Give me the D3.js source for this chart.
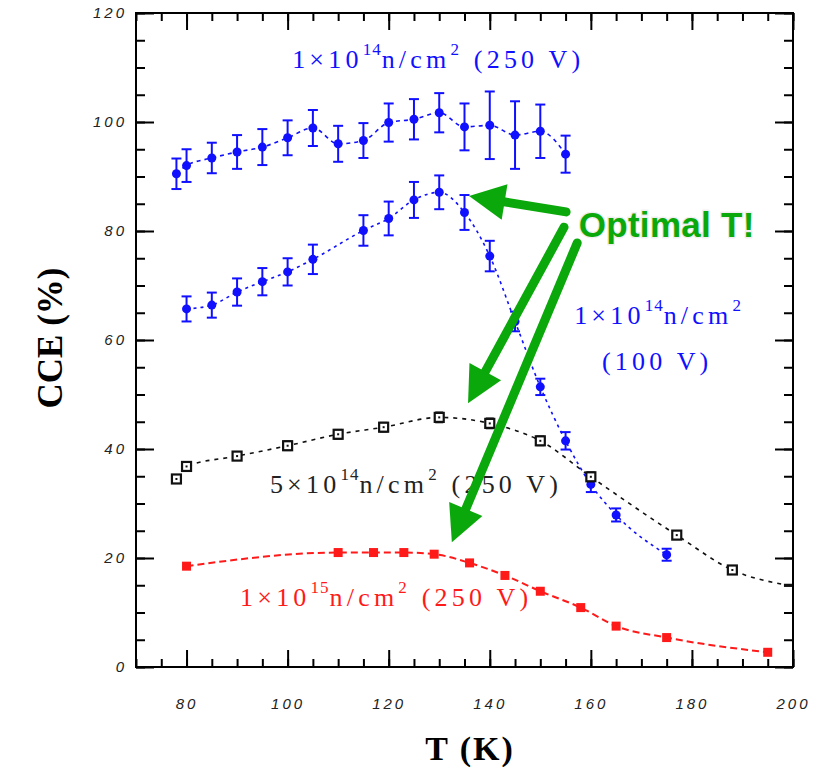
<!DOCTYPE html>
<html>
<head>
<meta charset="utf-8">
<script src="https://cdn.jsdelivr.net/npm/d3@7"></script>
<style>
  body { margin: 0; background: #fff; }
  .tick text { font-family: "Liberation Sans", Arial, sans-serif; font-style: italic; font-size: 15px; letter-spacing: 3px; fill: #222; }
  .lbl { font-family: "Liberation Serif", "Times New Roman", serif; font-size: 26px; letter-spacing: 4.2px; }
</style>
</head>
<body>
<div id="chart"></div>
<script>
// 1e14 n/cm2, 250 V
const tempHigh = [78, 80, 85, 90, 95, 100, 105, 110, 115, 120, 125, 130, 135, 140, 145, 150, 155];
const cceHigh  = [90.5, 92.0, 93.4, 94.5, 95.4, 97.1, 98.9, 96.0, 96.6, 99.9, 100.5, 101.7, 99.1, 99.4, 97.6, 98.3, 94.1];
const errHigh  = [2.8, 3.0, 2.8, 3.1, 3.3, 3.2, 3.3, 3.3, 3.2, 3.5, 3.7, 3.6, 4.3, 6.2, 6.2, 4.9, 3.4];

// 1e14 n/cm2, 100 V
const tempLow = [80, 85, 90, 95, 100, 105, 115, 120, 125, 130, 135, 140, 145, 150, 155, 160, 165, 175];
const cceLow  = [65.7, 66.4, 68.8, 70.7, 72.5, 74.8, 80.1, 82.3, 85.7, 87.1, 83.4, 75.4, 63.4, 51.4, 41.5, 33.5, 27.9, 20.6];
const errLow  = [2.3, 2.3, 2.5, 2.5, 2.5, 2.7, 2.8, 3.1, 3.3, 3.1, 3.2, 2.8, 1.8, 1.5, 1.6, 1.4, 1.2, 1.1];

// 5e14 n/cm2, 250 V
const tempMid = [78, 80, 90, 100, 110, 119, 130, 140, 150, 160, 177, 188];
const cceMid  = [34.5, 36.8, 38.7, 40.6, 42.7, 44.0, 45.8, 44.7, 41.5, 34.9, 24.2, 17.8];
const errMid  = [0, 0, 0.7, 0.8, 0.8, 0.8, 0.9, 0.9, 0.8, 0.8, 0.5, 0.4];
const midTail = [199, 15.0];

// 1e15 n/cm2, 250 V
const tempFlu = [80, 110, 117, 123, 129, 136, 143, 150, 158, 165, 175, 195];
const cceFlu  = [18.5, 21.0, 21.0, 21.0, 20.7, 19.1, 16.8, 13.9, 10.9, 7.5, 5.4, 2.7];

const xTicks = [80, 100, 120, 140, 160, 180, 200];
const yTicks = [0, 20, 40, 60, 80, 100, 120];

// annotation arrows: [tailT, tailCCE, tipT, tipCCE]
const arrows = [
  [155.1, 83.5, 135.9, 86.4],
  [154.7, 80.7, 135.7, 48.4],
  [157.3, 77.8, 132.5, 22.9]
];

const width = 815, height = 771;
const blue = "#1010ff", red = "#ff1a1a", green = "#0aa80a";

const svg = d3.select("#chart").append("svg")
  .attr("width", width).attr("height", height);

const x = d3.scaleLinear().domain([70, 200]).range([136, 793]);
const y = d3.scaleLinear().domain([0, 120]).range([667, 13]);

svg.append("defs").append("clipPath").attr("id", "clip")
  .append("rect").attr("x", 136).attr("y", 13).attr("width", 657).attr("height", 654);

// axes (ticks inward on all four sides)
function axes(axisFn, pos, vals, len, labels, pad) {
  const a = axisFn.tickValues(vals).tickSize(-len).tickPadding(pad || 3);
  if (!labels) a.tickFormat("");
  const g = svg.append("g").attr("transform", pos).call(a);
  g.select(".domain").remove();
  g.selectAll("line").attr("stroke", "#000").attr("stroke-width", 2);
  return g;
}
const xMinor = d3.range(70, 201, 5);
const yMinor = d3.range(0, 121, 5);

axes(d3.axisBottom(x), "translate(0,667)", xMinor, 8, false);
axes(d3.axisBottom(x), "translate(0,667)", xTicks, 17, true, 31);
axes(d3.axisTop(x), "translate(0,13)", xMinor, 8, false);
axes(d3.axisTop(x), "translate(0,13)", xTicks, 17, false);
axes(d3.axisLeft(y), "translate(136,0)", yMinor, 9, false);
axes(d3.axisLeft(y), "translate(136,0)", yTicks, 18, true, 9);
axes(d3.axisRight(y), "translate(793,0)", yMinor, 9, false);
axes(d3.axisRight(y), "translate(793,0)", yTicks, 18, false);

svg.append("rect").attr("x", 136).attr("y", 13).attr("width", 657).attr("height", 654)
  .attr("fill", "none").attr("stroke", "#000").attr("stroke-width", 2);

// axis titles
svg.append("text").attr("x", 470).attr("y", 760).attr("text-anchor", "middle")
  .style("font-family", "Liberation Serif, serif").style("font-weight", "bold")
  .style("font-size", "34px").style("letter-spacing", "2px").text("T (K)");
svg.append("text").attr("transform", "translate(62,338) rotate(-90)").attr("text-anchor", "middle")
  .style("font-family", "Liberation Serif, serif").style("font-weight", "bold")
  .style("font-size", "35px").text("CCE (%)");

const plot = svg.append("g").attr("clip-path", "url(#clip)");

const line = d3.line().x(d => x(d[0])).y(d => y(d[1])).curve(d3.curveMonotoneX);

function series(ts, vs, color, dash, sw) {
  const pts = ts.map((t, i) => [t, vs[i]]);
  plot.append("path").datum(pts).attr("d", line)
    .attr("fill", "none").attr("stroke", color).attr("stroke-width", sw)
    .attr("stroke-dasharray", dash);
  return pts;
}

function errorBars(ts, vs, es, color, cap) {
  const g = plot.append("g").attr("stroke", color).attr("stroke-width", 2);
  ts.forEach((t, i) => {
    if (!es[i]) return;
    g.append("line").attr("x1", x(t)).attr("x2", x(t)).attr("y1", y(vs[i] - es[i])).attr("y2", y(vs[i] + es[i]));
    [vs[i] - es[i], vs[i] + es[i]].forEach(v => {
      g.append("line").attr("x1", x(t) - cap).attr("x2", x(t) + cap).attr("y1", y(v)).attr("y2", y(v));
    });
  });
}

// 1e14 250V
series(tempHigh, cceHigh, blue, "4,4", 1.6);
errorBars(tempHigh, cceHigh, errHigh, blue, 5);
plot.selectAll(".dh").data(tempHigh).enter().append("circle")
  .attr("cx", d => x(d)).attr("cy", (d, i) => y(cceHigh[i])).attr("r", 4.5).attr("fill", blue);

// 1e14 100V
series(tempLow, cceLow, blue, "3,4", 1.6);
errorBars(tempLow, cceLow, errLow, blue, 5);
plot.selectAll(".dl").data(tempLow).enter().append("circle")
  .attr("cx", d => x(d)).attr("cy", (d, i) => y(cceLow[i])).attr("r", 4.5).attr("fill", blue);

// 5e14 250V
series(tempMid.concat([midTail[0]]), cceMid.concat([midTail[1]]), "#111", "4,5", 1.6);
errorBars(tempMid, cceMid, errMid, "#111", 4);
plot.selectAll(".dm").data(tempMid).enter().append("rect")
  .attr("x", d => x(d) - 4.5).attr("y", (d, i) => y(cceMid[i]) - 4.5)
  .attr("width", 9).attr("height", 9).attr("fill", "#fff").attr("stroke", "#111").attr("stroke-width", 2.2);
plot.selectAll(".dmc").data(tempMid).enter().append("rect")
  .attr("x", d => x(d) - 1).attr("y", (d, i) => y(cceMid[i]) - 1)
  .attr("width", 2).attr("height", 2).attr("fill", "#111");
plot.append("rect").attr("x", x(midTail[0]) - 4).attr("y", y(midTail[1]) - 1.5)
  .attr("width", 8).attr("height", 3).attr("fill", "#111");

// 1e15 250V
series(tempFlu, cceFlu, red, "7,4", 2);
plot.selectAll(".df").data(tempFlu).enter().append("rect")
  .attr("x", d => x(d) - 4.5).attr("y", (d, i) => y(cceFlu[i]) - 4.5)
  .attr("width", 9).attr("height", 9).attr("fill", red);

// series labels
function fluenceLabel(t, v, color, mant, exp, tail) {
  const txt = svg.append("text").attr("class", "lbl").attr("x", x(t)).attr("y", y(v)).attr("fill", color);
  txt.append("tspan").text(mant + "\u00d710");
  txt.append("tspan").attr("dy", -13).style("font-size", "17px").style("letter-spacing", "1px").text(exp);
  txt.append("tspan").attr("dy", 13).text("n/cm");
  txt.append("tspan").attr("dy", -13).style("font-size", "17px").text("2");
  txt.append("tspan").attr("dy", 13).text(tail);
  return txt;
}
fluenceLabel(100.9, 109.9, blue, "1", "14", " (250 V)");
fluenceLabel(156.7, 62.9, blue, "1", "14", "");
svg.append("text").attr("class", "lbl").attr("x", x(162.2)).attr("y", y(54.5)).attr("fill", blue).text("(100 V)");
fluenceLabel(96.5, 31.9, "#222", "5", "14", " (250 V)");
fluenceLabel(90.6, 11.2, red, "1", "15", " (250 V)");

// annotation
svg.append("text").attr("x", x(157.6)).attr("y", y(78.9)).attr("fill", green)
  .style("font-family", "Liberation Sans, Arial, sans-serif").style("font-weight", "bold")
  .style("font-size", "35px").style("letter-spacing", "0.3px")
  .style("paint-order", "stroke").style("stroke", "rgba(0,0,0,0.08)").style("stroke-width", "3px")
  .text("Optimal T!");

const headLen = 36, headHalf = 18;
arrows.forEach(a => {
  const x0 = x(a[0]), y0 = y(a[1]), x1 = x(a[2]), y1 = y(a[3]);
  const dx = x1 - x0, dy = y1 - y0, L = Math.hypot(dx, dy);
  const ux = dx / L, uy = dy / L;
  const bx = x1 - ux * headLen, by = y1 - uy * headLen;
  svg.append("line").attr("x1", x0).attr("y1", y0).attr("x2", bx + ux * 4).attr("y2", by + uy * 4)
    .attr("stroke", green).attr("stroke-width", 9).attr("stroke-linecap", "round");
  svg.append("path")
    .attr("d", `M${x1},${y1}L${bx - uy * headHalf},${by + ux * headHalf}L${bx + uy * headHalf},${by - ux * headHalf}Z`)
    .attr("fill", green);
});
</script>
</body>
</html>
